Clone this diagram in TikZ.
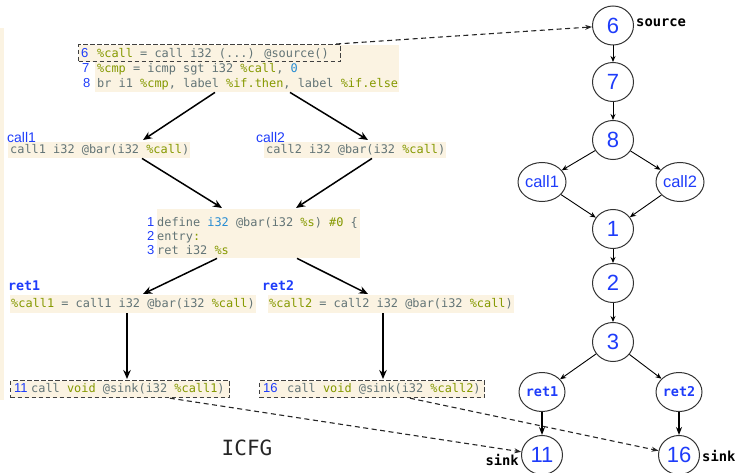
\documentclass[tikz,border=0pt]{standalone}
\usepackage{fontspec}
\usetikzlibrary{arrows.meta,shapes.geometric}
\newfontfamily\cmono{DejaVu Sans Mono}
\newfontfamily\csans{Liberation Sans}
\definecolor{cbeige}{HTML}{FBF3E2}
\definecolor{cgray}{HTML}{627476}
\definecolor{cgreen}{HTML}{859900}
\definecolor{cblue}{HTML}{268BD2}
\definecolor{nblue}{RGB}{30,60,250}
\newcommand\kwg[1]{\textcolor{cgreen}{#1}}
\newcommand\kwb[1]{\textcolor{cblue}{#1}}
\tikzset{
  bg/.style={fill=cbeige,draw=none,inner sep=0pt,anchor=north west},
  dbox/.style={fill=cbeige,draw=black!75,dash pattern=on 4.5pt off 2.5pt,line width=1.2pt,inner sep=0pt,anchor=north west},
  code/.style={font=\cmono\fontsize{11.9}{14}\selectfont,text=cgray,inner sep=0pt,anchor=base west},
  lnum/.style={font=\csans\fontsize{13}{14}\selectfont,text=nblue,inner sep=0pt,anchor=base west},
  lbl/.style={font=\csans\fontsize{14}{14}\selectfont,text=nblue,inner sep=0pt,anchor=base west},
  rlbl/.style={font=\cmono\bfseries\fontsize{13.3}{14}\selectfont,text=nblue,inner sep=0pt,anchor=base west},
  blk/.style={font=\cmono\bfseries\fontsize{13.8}{14}\selectfont,text=black,inner sep=0pt},
  gn/.style={ellipse,draw=black!80,line width=1pt,minimum width=41pt,minimum height=39pt,inner sep=0pt,text=nblue,font=\csans\fontsize{22}{22}\selectfont},
  gc/.style={gn,font=\csans\fontsize{16.5}{16.5}\selectfont},
  gr/.style={gn,font=\cmono\bfseries\fontsize{13.5}{14}\selectfont},
  garr/.style={line width=0.9pt,-{Stealth[length=6pt,width=5pt]}},
  garrb/.style={line width=1.4pt,-{Stealth[length=8pt,width=6pt]}},
  larr/.style={line width=1.5pt,-{Stealth[length=9pt,width=7.5pt]}},
  darr/.style={line width=1.1pt,draw=black!85,dash pattern=on 5pt off 3.5pt,-{Stealth[length=7pt,width=5pt]}}
}
\begin{document}
\begin{tikzpicture}[x=1pt,y=-1pt]
\useasboundingbox (0,0) rectangle (738,473);
% left strip
\fill[cbeige] (0,28) rectangle (4,400);
% backgrounds
\node[bg,minimum width=304pt,minimum height=47pt] (b1) at (95,45) {};
\node[dbox,minimum width=262pt,minimum height=17pt] (box6) at (78,44) {};
\node[bg,minimum width=182pt,minimum height=16pt] (c1bg) at (8,142) {};
\node[bg,minimum width=182pt,minimum height=16pt] (c2bg) at (264,142) {};
\node[bg,minimum width=203pt,minimum height=49pt] (barbg) at (157,209) {};
\node[bg,minimum width=246pt,minimum height=18pt] (r1bg) at (10,295) {};
\node[bg,minimum width=246pt,minimum height=18pt] (r2bg) at (268,295) {};
\node[dbox,minimum width=219pt,minimum height=17pt] (box11) at (10,380) {};
\node[dbox,minimum width=225pt,minimum height=17pt] (box16) at (259,380) {};
% block 1 text
\node[lnum] (n6l) at (81,58) {6};
\node[code] (t6) at (97,58) {\kwg{\%call} = call i32 (...) @source()};
\node[lnum] (n7l) at (82,73) {7};
\node[code] (t7) at (97,73) {\kwg{\%cmp} = icmp sgt i32 \kwg{\%call}, \kwb{0}};
\node[lnum] (n8l) at (83,88) {8};
\node[code] (t8) at (97,88) {br i1 \kwg{\%cmp}, label \kwg{\%if.then}, label \kwg{\%if.else}};
% call blocks
\node[lbl] (lc1) at (7,143) {call1};
\node[code] (tc1) at (10,154) {call1 i32 @bar(i32 \kwg{\%call})};
\node[lbl] (lc2) at (256,143) {call2};
\node[code] (tc2) at (266,154) {call2 i32 @bar(i32 \kwg{\%call})};
% bar block
\node[lnum] (n1l) at (147,226) {1};
\node[code] (t1) at (157,226) {define \kwb{i32} @bar(i32 \kwg{\%s}) \kwg{\#0} \{};
\node[lnum] (n2l) at (147,240) {2};
\node[code] (t2) at (157,240) {entry\kwg{:}};
\node[lnum] (n3l) at (147,254) {3};
\node[code] (t3) at (157,254) {ret i32 \kwg{\%s}};
% ret blocks
\node[rlbl] (lr1) at (8,290) {ret1};
\node[code] (tr1) at (11,307) {\kwg{\%call1} = call1 i32 @bar(i32 \kwg{\%call})};
\node[rlbl] (lr2) at (262,290) {ret2};
\node[code] (tr2) at (269,307) {\kwg{\%call2} = call2 i32 @bar(i32 \kwg{\%call})};
% sink blocks
\node[lnum] (n11l) at (14,392) {11};
\node[code] (t11) at (31,392) {call \kwg{void} @sink(i32 \kwg{\%call1})};
\node[lnum] (n16l) at (263,392) {16};
\node[code] (t16) at (287,392) {call \kwg{void} @sink(i32 \kwg{\%call2})};
% ICFG
\node[font=\cmono\fontsize{21}{21}\selectfont,text=black!85,inner sep=0pt,anchor=base] (icfg) at (247,455) {ICFG};
% left arrows
\draw[larr] ([xshift=120pt]b1.south west) -- ([xshift=135pt,yshift=2pt]c1bg.north west);
\draw[larr] ([xshift=195pt]b1.south west) -- ([xshift=104pt,yshift=2pt]c2bg.north west);
\draw[larr] ([xshift=134pt]c1bg.south west) -- ([xshift=65pt,yshift=1pt]barbg.north west);
\draw[larr] ([xshift=108pt]c2bg.south west) -- ([xshift=139pt,yshift=1pt]barbg.north west);
\draw[larr] ([xshift=60pt]barbg.south west) -- ([xshift=133pt,yshift=1pt]r1bg.north west);
\draw[larr] ([xshift=140pt]barbg.south west) -- ([xshift=100pt,yshift=1pt]r2bg.north west);
\draw[larr] ([xshift=117pt]r1bg.south west) -- ([xshift=117pt,yshift=1pt]box11.north west);
\draw[larr] ([xshift=115pt]r2bg.south west) -- ([xshift=124pt,yshift=1pt]box16.north west);
% graph
\node[gn] (g6) at (613,25.5) {6};
\node[gn] (g7) at (613,82) {7};
\node[gn] (g8) at (613,140) {8};
\node[gc] (gc1) at (542,182) {call1};
\node[gc] (gc2) at (680,182) {call2};
\node[gn] (g1) at (613,229) {1};
\node[gn] (g2) at (613,283) {2};
\node[gn] (g3) at (613,342) {3};
\node[gr] (gr1) at (542,392) {ret1};
\node[gr] (gr2) at (679,392) {ret2};
\node[gn] (g11) at (542,455) {11};
\node[gn] (g16) at (679,455) {16};
\node[blk,anchor=base west] (src) at (636,27) {source};
\node[blk,anchor=base east] (sk1) at (519,465) {sink};
\node[blk,anchor=base west] (sk2) at (702,461) {sink};
\draw[garr] (g6) -- (g7);
\draw[garr] (g7) -- (g8);
\draw[garr] (g8) -- (gc1);
\draw[garr] (g8) -- (gc2);
\draw[garr] (gc1) -- (g1);
\draw[garr] (gc2) -- (g1);
\draw[garr] (g1) -- (g2);
\draw[garr] (g2) -- (g3);
\draw[garr] (g3) -- (gr1);
\draw[garr] (g3) -- (gr2);
\draw[garrb] (gr1) -- (g11);
\draw[garrb] (gr2) -- (g16);
% dashed links
\draw[darr] ([xshift=-5pt]box6.north east) -- (g6);
\draw[darr] ([xshift=160pt]box11.south west) -- (g11);
\draw[darr] ([xshift=151pt]box16.south west) -- (g16);
\end{tikzpicture}
\end{document}
